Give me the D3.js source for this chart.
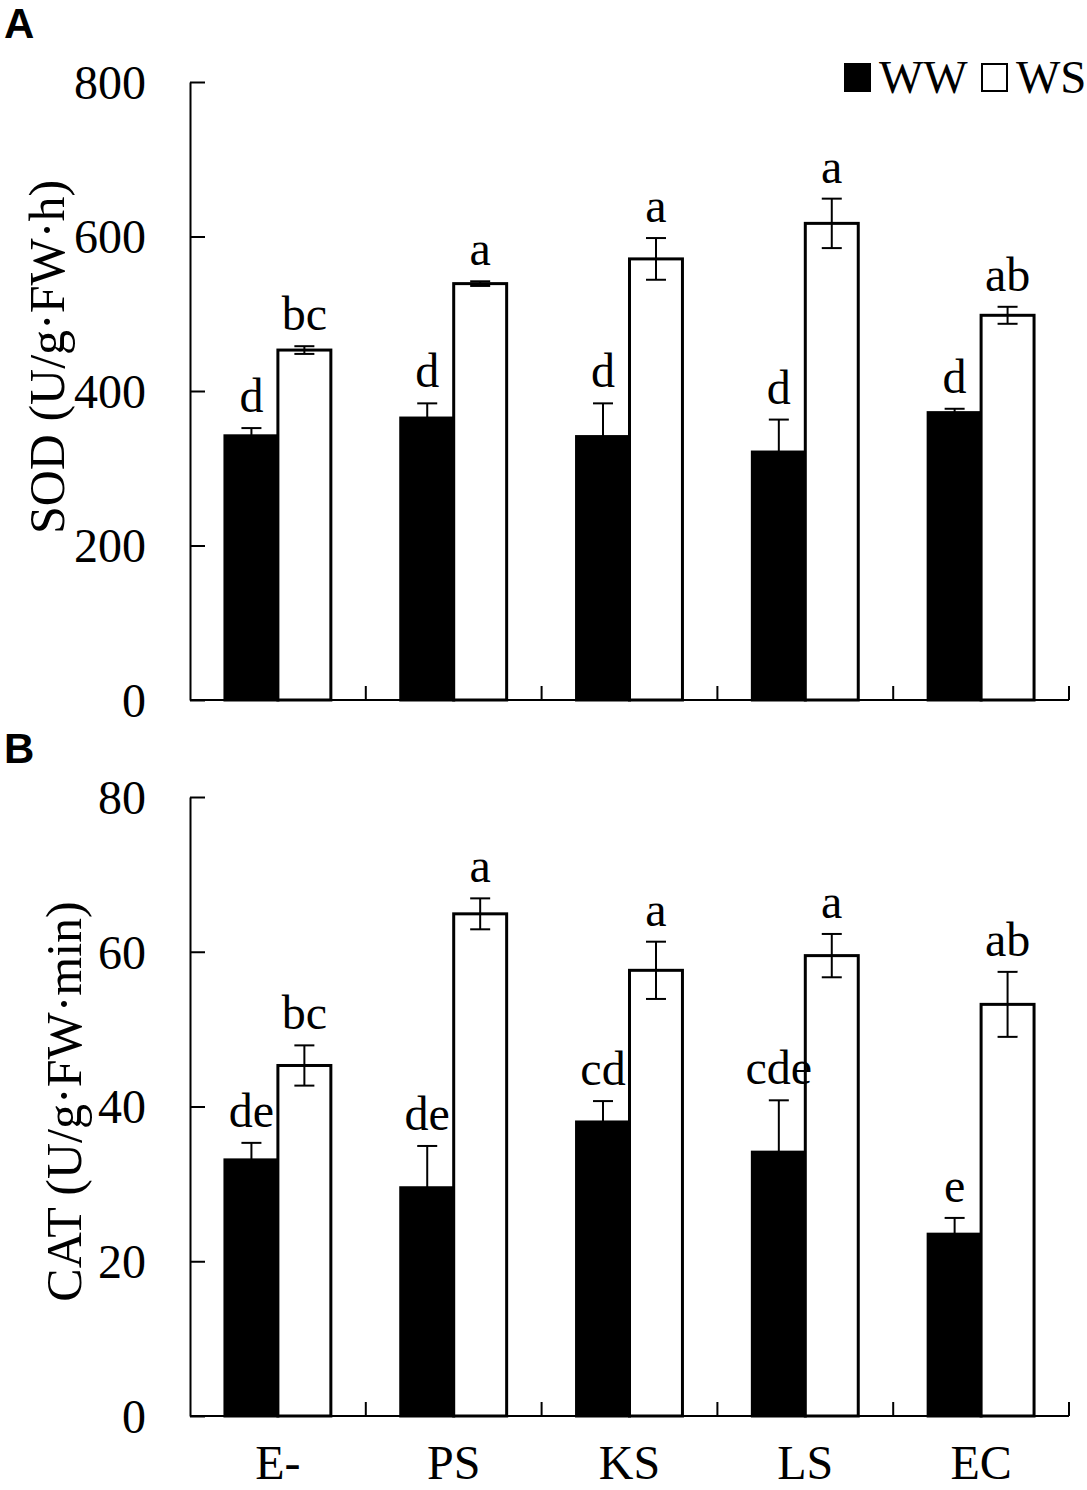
<!DOCTYPE html>
<html>
<head>
<meta charset="utf-8">
<script src="https://cdn.jsdelivr.net/npm/d3@7"></script>
<style>
  body { margin: 0; background: #fff; }
  svg text { font-family: "Liberation Serif", "Times New Roman", serif; fill: #000; }
  .panel-letter { font-family: "Liberation Sans", Arial, sans-serif !important; font-weight: bold; }
</style>
</head>
<body>
<div id="chart"></div>
<script>
// categories and series
let categories = ["E-", "PS", "KS", "LS", "EC"]
let groups = ["WW", "WS"]

// SOD (panel A)
let sodWW = [342, 365, 341, 321, 372]
let sodWWErr = [10, 19, 43, 42, 5]
let sodWS = [453, 539, 571, 617, 498]
let sodWSErr = [5, 3, 27, 32, 11]
let sodWWLetters = ["d", "d", "d", "d", "d"]
let sodWSLetters = ["bc", "a", "a", "a", "ab"]
let sodTicks = [0, 200, 400, 600, 800]

// CAT (panel B)
let catWW = [33.1, 29.5, 38.0, 34.1, 23.5]
let catWWErr = [2.2, 5.4, 2.7, 6.7, 2.1]
let catWS = [45.3, 64.9, 57.6, 59.5, 53.2]
let catWSErr = [2.6, 2.0, 3.7, 2.8, 4.2]
let catWWLetters = ["de", "de", "cd", "cde", "e"]
let catWSLetters = ["bc", "a", "a", "a", "ab"]
let catTicks = [0, 20, 40, 60, 80]

let width = 1087, height = 1490
let left = 190, right = 1069

let svg = d3.select("#chart").append("svg")
    .attr("width", width)
    .attr("height", height)

let x0 = d3.scaleBand().domain(categories).range([left, right]).padding(0)
let x1 = d3.scaleBand().domain(groups).range([0, x0.bandwidth()])
    .paddingInner(0).paddingOuter(0.66)

let fill = {WW: "#000", WS: "#fff"}

function rows(ww, wwErr, ws, wsErr, wwLab, wsLab) {
  let out = []
  categories.forEach((c, i) => {
    out.push({cat: c, g: "WW", v: ww[i], e: wwErr[i], lab: wwLab[i]})
    out.push({cat: c, g: "WS", v: ws[i], e: wsErr[i], lab: wsLab[i]})
  })
  return out
}

let panels = [
  {letter: "A", letterY: 38, top: 82, bottom: 700, max: 800, ticks: sodTicks,
   title: "SOD (U/g\u00b7FW\u00b7h)", titleX: 64, titleShift: -34, xLabels: false,
   data: rows(sodWW, sodWWErr, sodWS, sodWSErr, sodWWLetters, sodWSLetters)},
  {letter: "B", letterY: 763, top: 797, bottom: 1416, max: 80, ticks: catTicks,
   title: "CAT (U/g\u00b7FW\u00b7min)", titleX: 81, titleShift: -5, xLabels: true,
   data: rows(catWW, catWWErr, catWS, catWSErr, catWWLetters, catWSLetters)}
]

panels.forEach(p => {
  let y = d3.scaleLinear().domain([0, p.max]).range([p.bottom, p.top])

  // panel letter
  svg.append("text")
    .attr("class", "panel-letter")
    .attr("x", 4)
    .attr("y", p.letterY)
    .style("font-size", "42px")
    .text(p.letter)

  // bars
  let g = svg.append("g")
  g.selectAll("rect")
    .data(p.data)
    .enter().append("rect")
    .attr("x", d => x0(d.cat) + x1(d.g))
    .attr("y", d => y(d.v))
    .attr("width", x1.bandwidth())
    .attr("height", d => y(0) - y(d.v))
    .attr("fill", d => fill[d.g])
    .attr("stroke", "#000")
    .attr("stroke-width", 3)

  // error bars
  let eb = g.selectAll(".err")
    .data(p.data)
    .enter().append("g")
    .attr("class", "err")
    .attr("stroke", "#000")
    .attr("stroke-width", 2)
  let cx = d => x0(d.cat) + x1(d.g) + x1.bandwidth() / 2
  eb.append("line")
    .attr("x1", cx).attr("x2", cx)
    .attr("y1", d => y(d.v - d.e)).attr("y2", d => y(d.v + d.e))
  eb.append("line")
    .attr("x1", d => cx(d) - 10).attr("x2", d => cx(d) + 10)
    .attr("y1", d => y(d.v + d.e)).attr("y2", d => y(d.v + d.e))
  eb.append("line")
    .attr("x1", d => cx(d) - 10).attr("x2", d => cx(d) + 10)
    .attr("y1", d => y(d.v - d.e)).attr("y2", d => y(d.v - d.e))

  // significance letters
  g.selectAll(".sig")
    .data(p.data)
    .enter().append("text")
    .attr("class", "sig")
    .attr("x", cx)
    .attr("y", d => y(d.v + d.e) - 16)
    .attr("text-anchor", "middle")
    .style("font-size", "48px")
    .text(d => d.lab)

  // y axis, ticks pointing inside
  let yAxis = d3.axisLeft(y)
    .tickValues(p.ticks)
    .tickSizeInner(-15)
    .tickSizeOuter(0)
    .tickPadding(44)
  let ya = svg.append("g")
    .attr("transform", "translate(" + left + ",0)")
    .call(yAxis)
  ya.selectAll("path, line").attr("stroke", "#000").attr("stroke-width", 2)
  ya.selectAll("text")
    .style("font-family", "'Liberation Serif', 'Times New Roman', serif")
    .style("font-size", "48px")
    .attr("dy", "0.34em")

  // x axis line and group separator ticks
  svg.append("line")
    .attr("x1", left).attr("x2", right)
    .attr("y1", p.bottom).attr("y2", p.bottom)
    .attr("stroke", "#000").attr("stroke-width", 2)
  svg.selectAll(null)
    .data(categories)
    .enter().append("line")
    .attr("x1", d => x0(d) + x0.bandwidth())
    .attr("x2", d => x0(d) + x0.bandwidth())
    .attr("y1", p.bottom).attr("y2", p.bottom - 14)
    .attr("stroke", "#000").attr("stroke-width", 2)

  if (p.xLabels) {
    svg.selectAll(null)
      .data(categories)
      .enter().append("text")
      .attr("x", d => x0(d) + x0.bandwidth() / 2)
      .attr("y", p.bottom + 63)
      .attr("text-anchor", "middle")
      .style("font-size", "48px")
      .text(d => d)
  }

  // y axis title
  svg.append("text")
    .attr("transform", "rotate(-90)")
    .attr("x", -((p.top + p.bottom) / 2 + p.titleShift))
    .attr("y", p.titleX)
    .attr("text-anchor", "middle")
    .style("font-size", "50px")
    .text(p.title)
})

// legend
let legend = svg.append("g").attr("transform", "translate(844,63)")
groups.forEach((gname, i) => {
  let lx = i * 137
  legend.append("rect")
    .attr("x", lx + 1).attr("y", 1)
    .attr("width", 25).attr("height", 27)
    .attr("fill", fill[gname])
    .attr("stroke", "#000")
    .attr("stroke-width", 2)
  legend.append("text")
    .attr("x", lx + 35)
    .attr("y", 30)
    .style("font-size", "47px")
    .text(gname)
})
</script>
</body>
</html>
